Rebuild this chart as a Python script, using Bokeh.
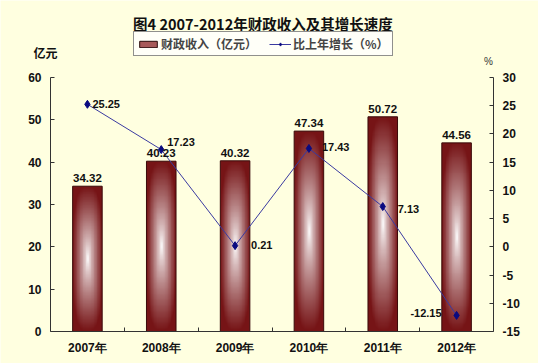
import numpy as np
from bokeh.plotting import figure
from bokeh.models import (Range1d, LinearAxis, FixedTicker, Label, LabelSet,
                          ColumnDataSource, Legend, LegendItem)
from bokeh.core.properties import value
from bokeh.embed import file_html
from bokeh.resources import INLINE

# ---- data ----
years = ["2007年", "2008年", "2009年", "2010年", "2011年", "2012年"]
revenue = [34.32, 40.23, 40.32, 47.34, 50.72, 44.56]
growth = [25.25, 17.23, 0.21, 17.43, 7.13, -12.15]
left_ticks = [0, 10, 20, 30, 40, 50, 60]
right_ticks = [-15, -10, -5, 0, 5, 10, 15, 20, 25, 30]
title_text = "图4  2007-2012年财政收入及其增长速度"
bar_name = "财政收入（亿元）"
line_name = "比上年增长（%）"
left_unit = "亿元"
right_unit = "%"

BG = "#FFFFE0"
CJK = "Noto Sans CJK SC"
NUM = "Liberation Sans"

W, H = 538, 363
# plot-area geometry in pixels
FL, FR, FT, FB = 50, 493, 77, 331

n = len(years)
xc = [i + 0.5 for i in range(n)]
bar_w = 0.4
lo, hi = left_ticks[0], left_ticks[-1]
rlo, rhi = right_ticks[0], right_ticks[-1]

pxx = (FR - FL) / n
pxy = (FB - FT) / (hi - lo)
pxr = (FB - FT) / (rhi - rlo)

def dx(px):
    return (px - FL) / pxx

def dy(py):
    return lo + (FB - py) / pxy

p = figure(width=W, height=H, output_backend="svg", toolbar_location=None,
           x_range=Range1d(dx(0), dx(W)), y_range=Range1d(dy(H), dy(0)),
           min_border=0, min_border_left=0, min_border_right=0,
           min_border_top=0, min_border_bottom=0)
p.background_fill_color = BG
p.border_fill_color = BG
p.outline_line_color = None
p.grid.visible = False
p.extra_y_ranges = {"pct": Range1d(rlo + (FB - H) / pxr, rlo + FB / pxr)}

AX = "#333333"

def style_axis(ax):
    ax.major_label_text_font = NUM
    ax.major_label_text_font_style = "bold"
    ax.major_label_text_font_size = "12px"
    ax.major_label_text_color = "#111111"
    ax.axis_line_color = AX
    ax.major_tick_line_color = AX
    ax.minor_tick_line_color = AX

# left axis
yax = p.yaxis[0]
yax.ticker = FixedTicker(ticks=left_ticks)
yax.fixed_location = 0
yax.bounds = (lo, hi)
yax.major_tick_in = 4
yax.major_tick_out = 0
yax.major_label_standoff = 9
style_axis(yax)
yax.minor_tick_line_color = None

# bottom axis (ticks between categories, labels at centres)
xax = p.xaxis[0]
xax.ticker = FixedTicker(ticks=xc, minor_ticks=list(range(1, n)))
xax.major_label_overrides = {x: y for x, y in zip(xc, years)}
xax.fixed_location = lo
xax.bounds = (0, n)
xax.major_tick_in = 0
xax.major_tick_out = 0
xax.minor_tick_in = 4
xax.minor_tick_out = 0
xax.major_label_standoff = 9
style_axis(xax)

# right axis
rax = LinearAxis(y_range_name="pct", ticker=FixedTicker(ticks=right_ticks))
rax.major_label_overrides = {t: str(t) for t in right_ticks}
rax.fixed_location = n
rax.bounds = (rlo, rhi)
rax.major_tick_in = 4
rax.major_tick_out = 0
rax.major_label_standoff = 9
style_axis(rax)
rax.minor_tick_line_color = None
p.add_layout(rax, "right")

# ---- gradient bars ----
def gradient(h=200, w=40):
    yy = np.linspace(-1, 1, h)[:, None]
    xx = np.linspace(-1, 1, w)[None, :]
    k = 3.0
    t = (np.abs(xx) ** k + np.abs(yy) ** k) ** (1 / k)
    t = np.clip(t, 0, 1) ** 0.85
    dark = np.array([118, 20, 22], dtype=float)
    white = np.array([255, 255, 255], dtype=float)
    rgb = white * (1 - t[..., None]) + dark * t[..., None]
    img = np.empty((h, w), dtype=np.uint32)
    view = img.view(dtype=np.uint8).reshape((h, w, 4))
    view[..., :3] = rgb.astype(np.uint8)
    view[..., 3] = 255
    return img

g = gradient()
bars = ColumnDataSource(dict(
    image=[g] * n,
    x=[c - bar_w / 2 for c in xc],
    y=[lo] * n,
    dw=[bar_w] * n,
    dh=revenue,
))
p.image_rgba(image="image", x="x", y="y", dw="dw", dh="dh", source=bars)

src = ColumnDataSource(dict(x=xc, rev=revenue, g=growth,
                            rev_lbl=[f"{v:.2f}" for v in revenue]))
p.vbar(x="x", top="rev", width=bar_w, bottom=lo, source=src,
       fill_color=None, line_color="#3A0A0A", line_width=1)

# legend proxy for the bars (not drawn itself)
proxy = p.quad(left=[np.nan], right=[np.nan], bottom=[np.nan], top=[np.nan],
               fill_color="#A85A5A", line_color="#2A0A0A", line_width=1)

# ---- growth line ----
ln = p.line(x="x", y="g", source=src, y_range_name="pct",
            line_color="#3A3AA0", line_width=1)
mk = p.scatter(x="x", y="g", source=src, y_range_name="pct", marker="diamond",
               size=8, fill_color="#0A0A80", line_color="#0A0A80")

# ---- value labels ----
p.add_layout(LabelSet(x="x", y="rev", text="rev_lbl", source=src, y_offset=4,
                      text_align="center", text_baseline="bottom",
                      text_font=value(NUM), text_font_style="bold",
                      text_font_size="11.5px", text_color="#111111"))

# placement of growth labels: (x_offset, y_offset, align, baseline)
g_place = [(5, 0, "left", "middle"), (6, 4, "left", "bottom"),
           (16, 1, "left", "middle"), (13, 1, "left", "middle"),
           (15, -2, "left", "middle"), (-15, 2, "right", "middle")]
for x, v, (ox, oy, al, bl) in zip(xc, growth, g_place):
    p.add_layout(Label(x=x, y=v, y_range_name="pct", text=f"{v:.2f}",
                       x_offset=ox, y_offset=oy, text_align=al,
                       text_baseline=bl, text_font=NUM, text_font_style="bold",
                       text_font_size="11px", text_color="#111111"))

# ---- title / units ----
p.add_layout(Label(x=dx(264), y=dy(23), text=title_text, text_align="center",
                   text_baseline="middle", text_font=CJK,
                   text_font_style="bold", text_font_size="14.5px",
                   text_color="#111111"))
p.add_layout(Label(x=dx(45), y=dy(52), text=left_unit, text_align="center",
                   text_baseline="middle", text_font=CJK,
                   text_font_style="bold", text_font_size="12px",
                   text_color="#111111"))
p.add_layout(Label(x=dx(488), y=dy(61), text=right_unit, text_align="center",
                   text_baseline="middle", text_font=NUM,
                   text_font_size="10px", text_color="#333333"))

# ---- legend ----
legend = Legend(items=[LegendItem(label=bar_name, renderers=[proxy]),
                       LegendItem(label=line_name, renderers=[ln, mk])],
                orientation="horizontal", location=(133, H - 56),
                glyph_width=22, glyph_height=8, label_standoff=2,
                spacing=12, padding=3, margin=0,
                label_text_font=CJK, label_text_font_style="bold",
                label_text_font_size="12px", label_height=12,
                border_line_color="#222222", border_line_width=1,
                background_fill_color="#FFFFF8", background_fill_alpha=1)
p.add_layout(legend, "center")

open("out.html", "w").write(file_html(p, INLINE))
